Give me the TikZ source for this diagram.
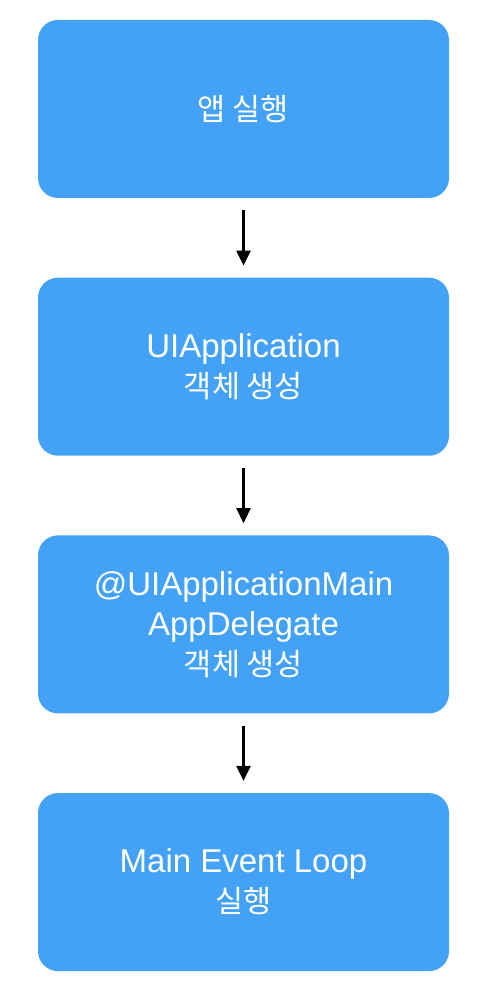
\documentclass[tikz,border=0pt]{standalone}
\usepackage{fontspec}
\setmainfont{Liberation Sans}
\newfontfamily\kr{Noto Sans CJK KR}
\usepackage{xcolor}
\usepackage{tikz}
\usetikzlibrary{arrows.meta,positioning}
\definecolor{boxblue}{RGB}{68,162,246}
\newcommand{\krline}[1]{{\kr\fontsize{30.5}{40}\selectfont #1}}

\begin{document}
\begin{tikzpicture}[x=1pt,y=1pt,
    node distance=79.3pt,
    stepbox/.style={fill=boxblue,rounded corners=20pt,minimum width=411pt,minimum height=178pt,
      text=white,align=center,font=\fontsize{33}{40}\selectfont,inner sep=0pt},
    flow/.style={-{Triangle[length=15pt,width=14pt]},line width=2.6pt,shorten <=12pt,shorten >=12pt}]
  \useasboundingbox (0,0) rectangle (492,-992);
  \node[stepbox] (run) at (243.5,-109) {\krline{앱 실행}};
  \node[stepbox,below=of run] (uiapp) {UIApplication\\\krline{객체 생성}};
  \node[stepbox,below=of uiapp] (delegate) {@UIApplicationMain\\AppDelegate\\\krline{객체 생성}};
  \node[stepbox,below=of delegate] (loop) {Main Event Loop\\\krline{실행}};
  \draw[flow] (run) -- (uiapp);
  \draw[flow] (uiapp) -- (delegate);
  \draw[flow] (delegate) -- (loop);
\end{tikzpicture}
\end{document}
